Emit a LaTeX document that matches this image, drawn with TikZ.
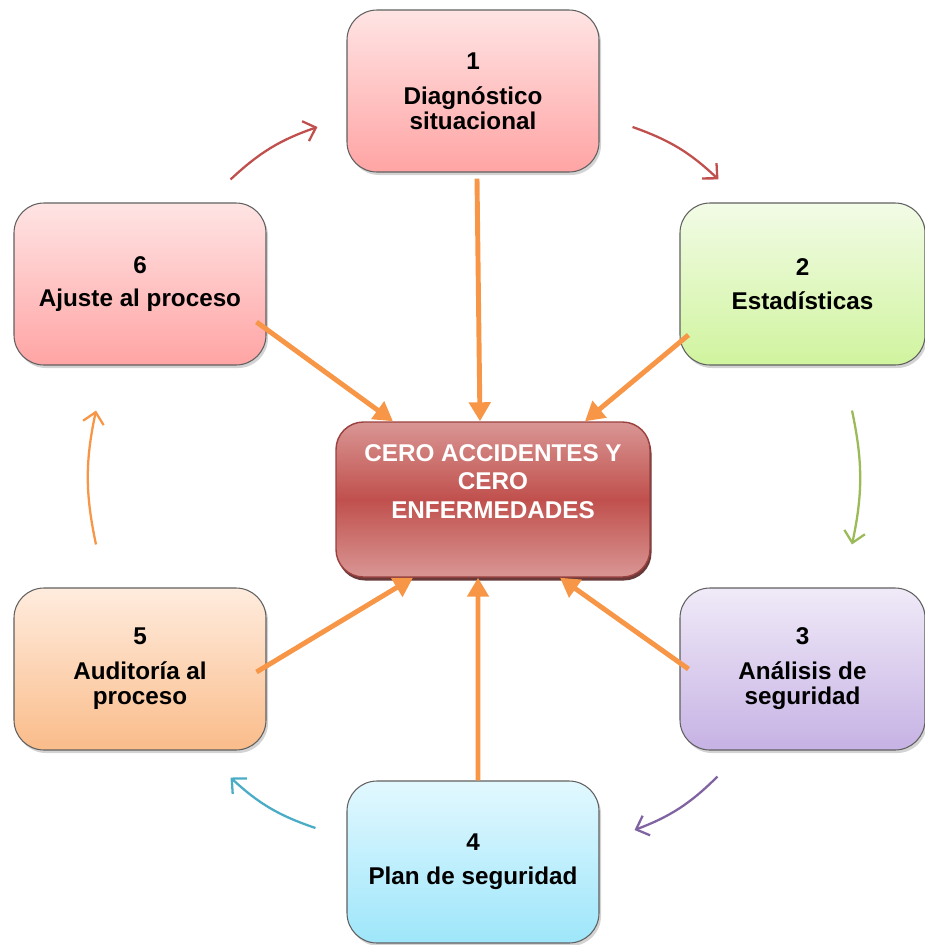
\documentclass[tikz,border=0pt]{standalone}
\usepackage{fontspec}
\setmainfont{Liberation Sans}
\usetikzlibrary{arrows.meta,shadows}

\definecolor{spokeorange}{HTML}{F79646}
\definecolor{turnred}{HTML}{C0504D}
\definecolor{turngreen}{HTML}{9BBB59}
\definecolor{turnpurple}{HTML}{8064A2}
\definecolor{turnblue}{HTML}{4BACC6}
\definecolor{goalmid}{HTML}{C0504D}
\definecolor{goaltop}{HTML}{D99694}

\begin{document}
\begin{tikzpicture}[
  stage/.style={draw=gray!75!black, line width=0.6pt, rounded corners=0.6cm,
    minimum width=5.04cm, minimum height=3.24cm, align=center,
    font=\bfseries\fontsize{13.8}{14.2}\selectfont,
    drop shadow={opacity=0.35, shadow xshift=0.04cm, shadow yshift=-0.06cm}},
  spoke/.style={draw=spokeorange, line width=2.8pt, -{Triangle[length=0.38cm,width=0.42cm]}},
  turn/.style={line width=1.3pt, bend left=12, -{Straight Barb[length=0.22cm,width=0.42cm]}},
]
  \useasboundingbox (0,0) rectangle (18.5,-18.9);

  \node[stage, top color={rgb,255:red,255;green,228;blue,228}, bottom color={rgb,255:red,255;green,164;blue,164}]
    (b1) at (9.46,-1.82) {1\\[5.7pt]Diagnóstico\\situacional};
  \node[stage, minimum width=4.9cm, top color={rgb,255:red,242;green,251;blue,230}, bottom color={rgb,255:red,208;green,244;blue,158}]
    (b2) at (16.05,-5.68) {2\\[5pt]Estadísticas};
  \node[stage, minimum width=4.9cm, top color={rgb,255:red,240;green,234;blue,248}, bottom color={rgb,255:red,198;green,178;blue,228}]
    (b3) at (16.05,-13.38) {3\\[5.7pt]Análisis de\\seguridad};
  \node[stage, top color={rgb,255:red,226;green,248;blue,255}, bottom color={rgb,255:red,158;green,230;blue,250}]
    (b4) at (9.46,-17.24) {4\\[5pt]Plan de seguridad};
  \node[stage, top color={rgb,255:red,255;green,236;blue,222}, bottom color={rgb,255:red,250;green,188;blue,138}]
    (b5) at (2.80,-13.38) {5\\[5.7pt]Auditoría al\\proceso};
  \node[stage, top color={rgb,255:red,255;green,228;blue,228}, bottom color={rgb,255:red,255;green,164;blue,164}]
    (b6) at (2.80,-5.68) {6\\[5pt]Ajuste al proceso};

  \node[draw=goalmid!80!black, line width=0.8pt, rounded corners=0.55cm,
    minimum width=6.28cm, minimum height=3.1cm, align=center, text=white,
    text depth=0.72cm, font=\bfseries\fontsize{13.8}{16.2}\selectfont,
    top color=goaltop, bottom color=goaltop, middle color=goalmid,
    drop shadow={fill=goalmid!45!black, opacity=0.9, shadow xshift=0.03cm, shadow yshift=-0.07cm}]
    (goal) at (9.86,-9.99) {CERO ACCIDENTES Y\\CERO\\ENFERMEDADES};

  \draw[spoke] ([shift={(0.08,-0.12)}]b1.south) -- ([xshift=-0.26cm]goal.north);
  \draw[spoke] ([shift={(0.18,-1.02)}]b2.west) -- ([xshift=1.84cm]goal.north);
  \draw[spoke] ([xshift=0.18cm]b3.west) -- ([xshift=1.34cm]goal.south);
  \draw[spoke] ([xshift=0.1cm]b4.north) -- ([xshift=-0.3cm]goal.south);
  \draw[spoke] ([shift={(-0.2,-0.06)}]b5.east) -- ([xshift=-1.6cm]goal.south);
  \draw[spoke] ([shift={(-0.2,-0.76)}]b6.east) -- ([xshift=-2.0cm]goal.north);

  \draw[turn, turnred] ([shift={(-0.72,0.46)}]b6.north east) to ([shift={(-0.58,-0.72)}]b1.west);
  \draw[turn, turnred] ([shift={(0.66,-0.72)}]b1.east) to ([shift={(0.78,0.46)}]b2.north west);
  \draw[turn, turngreen] ([shift={(0.99,-0.90)}]b2.south) to ([shift={(0.99,0.86)}]b3.north);
  \draw[turn, turnpurple] ([shift={(0.76,-0.52)}]b3.south west) to ([shift={(0.70,0.64)}]b4.east);
  \draw[turn, turnblue] ([shift={(-0.62,0.68)}]b4.west) to ([shift={(-0.72,-0.54)}]b5.south east);
  \draw[turn, spokeorange] ([shift={(-0.88,0.86)}]b5.north) to ([shift={(-0.88,-0.90)}]b6.south);
\end{tikzpicture}
\end{document}
